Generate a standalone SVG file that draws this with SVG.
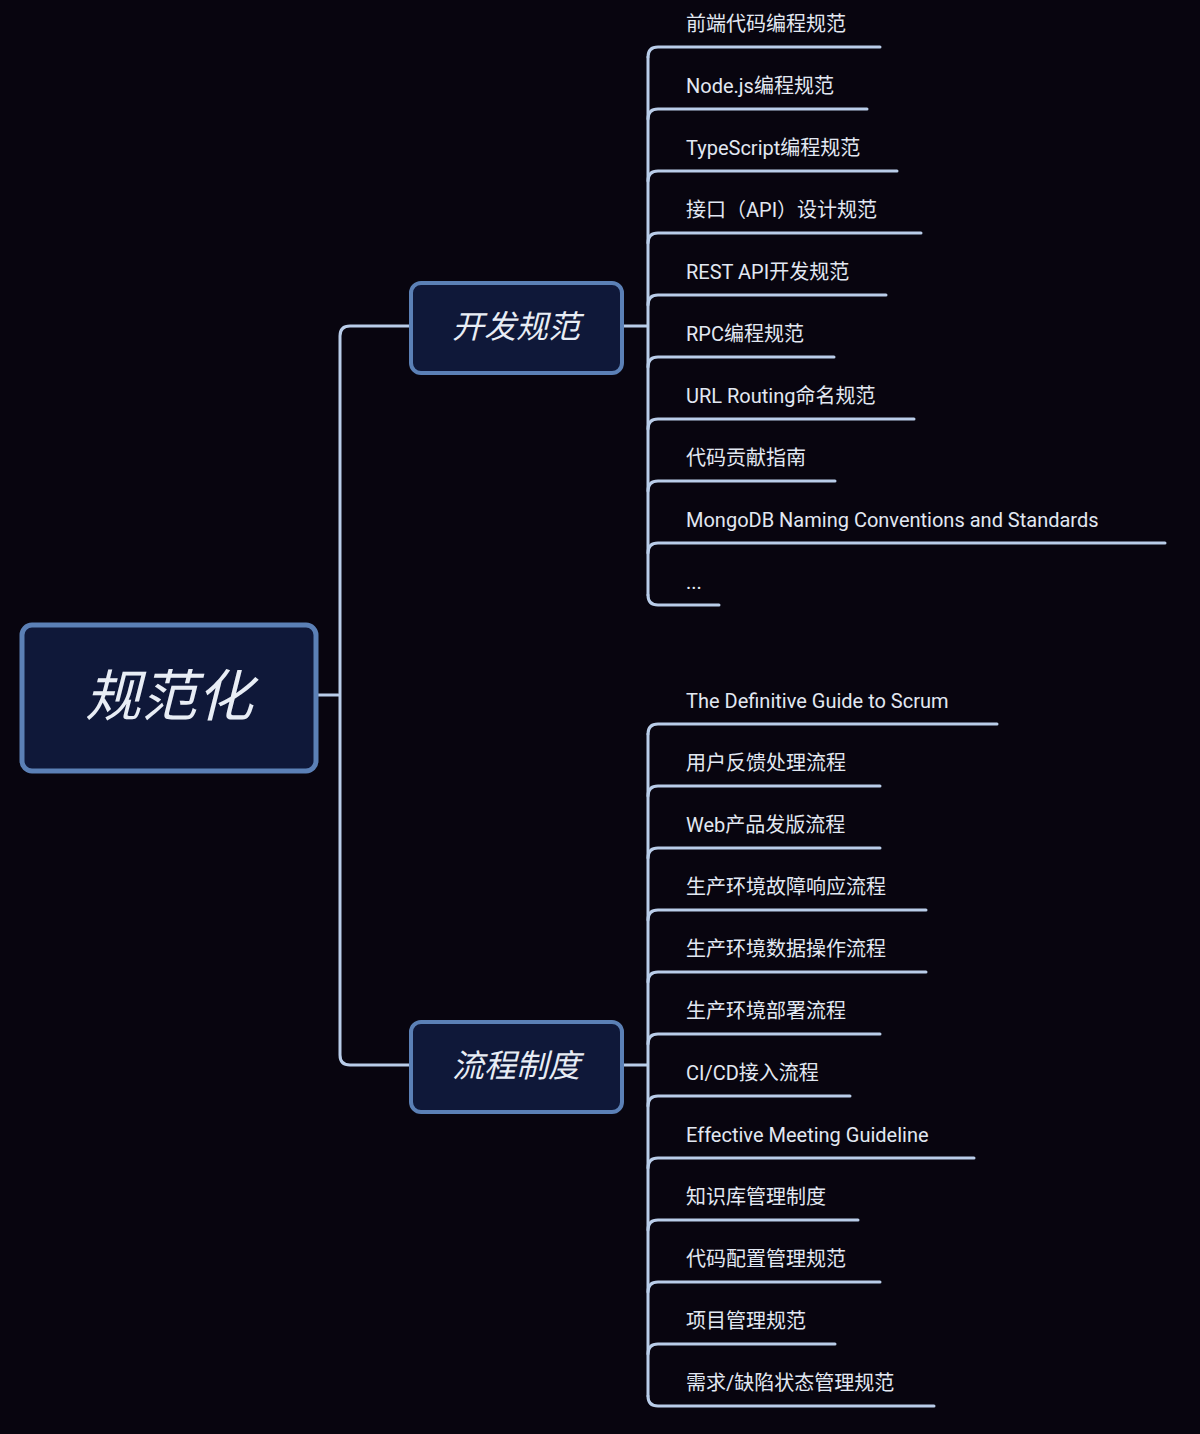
<svg xmlns="http://www.w3.org/2000/svg" width="1200" height="1434" viewBox="0 0 1200 1434">
<style>
.bg{fill:#08050f}
.ln{fill:none;stroke:#b9cde9;stroke-width:3;stroke-linecap:round}
.box{fill:#0f1839;stroke:#5b80b6}
.t{font-family:"Roboto","Noto Sans CJK SC",sans-serif;font-size:20px;fill:#e2e8f2}
.h{font-family:"Noto Sans CJK SC",sans-serif;font-style:italic;fill:#e8edf5;text-anchor:middle}
</style>
<rect class="bg" width="1200" height="1434"/>
<g id="connectors">
<path class="ln" d="M318,695 H338 M410,326 H350 Q340,326 340,336 V1055 Q340,1065 350,1065 H410"/>
<path class="ln" d="M623,326 H648 M648,57 V595 M623,1065 H648 M648,734 V1396"/>
<path class="ln" d="M648,57 Q648,47 658,47 H880 M648,119 Q648,109 658,109 H867 M648,181 Q648,171 658,171 H897 M648,243 Q648,233 658,233 H921 M648,305 Q648,295 658,295 H886 M648,367 Q648,357 658,357 H834 M648,429 Q648,419 658,419 H914 M648,491 Q648,481 658,481 H835 M648,553 Q648,543 658,543 H1165 M648,595 Q648,605 658,605 H719"/>
<path class="ln" d="M648,734 Q648,724 658,724 H997 M648,796 Q648,786 658,786 H880 M648,858 Q648,848 658,848 H880 M648,920 Q648,910 658,910 H926 M648,982 Q648,972 658,972 H926 M648,1044 Q648,1034 658,1034 H880 M648,1106 Q648,1096 658,1096 H850 M648,1168 Q648,1158 658,1158 H974 M648,1230 Q648,1220 658,1220 H858 M648,1292 Q648,1282 658,1282 H880 M648,1354 Q648,1344 658,1344 H835 M648,1396 Q648,1406 658,1406 H934"/>
</g>
<g id="root"><rect class="box" x="22" y="625" width="294" height="146" rx="10" stroke-width="5"/><text class="h" x="169" y="716" font-size="56">规范化</text></g>
<g id="dev"><rect class="box" x="411" y="283" width="211" height="90" rx="10" stroke-width="4"/><text class="h" x="516" y="338" font-size="32">开发规范</text></g>
<g id="proc"><rect class="box" x="411" y="1022" width="211" height="90" rx="10" stroke-width="4"/><text class="h" x="516" y="1077" font-size="32">流程制度</text></g>
<g id="leaves1" class="t">
<text x="686" y="31">前端代码编程规范</text>
<text x="686" y="93">Node.js编程规范</text>
<text x="686" y="155">TypeScript编程规范</text>
<text x="686" y="217">接口（API）设计规范</text>
<text x="686" y="279">REST API开发规范</text>
<text x="686" y="341">RPC编程规范</text>
<text x="686" y="403">URL Routing命名规范</text>
<text x="686" y="465">代码贡献指南</text>
<text x="686" y="527">MongoDB Naming Conventions and Standards</text>
<text x="686" y="589">...</text>
</g>
<g id="leaves2" class="t">
<text x="686" y="708">The Definitive Guide to Scrum</text>
<text x="686" y="770">用户反馈处理流程</text>
<text x="686" y="832">Web产品发版流程</text>
<text x="686" y="894">生产环境故障响应流程</text>
<text x="686" y="956">生产环境数据操作流程</text>
<text x="686" y="1018">生产环境部署流程</text>
<text x="686" y="1080">CI/CD接入流程</text>
<text x="686" y="1142">Effective Meeting Guideline</text>
<text x="686" y="1204">知识库管理制度</text>
<text x="686" y="1266">代码配置管理规范</text>
<text x="686" y="1328">项目管理规范</text>
<text x="686" y="1390">需求/缺陷状态管理规范</text>
</g>
</svg>
